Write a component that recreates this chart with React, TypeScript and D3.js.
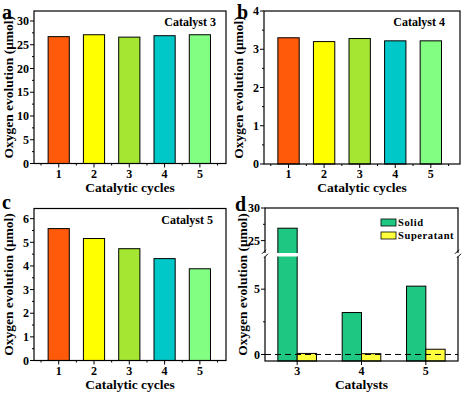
import * as d3 from 'd3';

const cycles = [1, 2, 3, 4, 5];
const cycleColors = ['#ff5a0a', '#ffff00', '#a5e632', '#00c8c8', '#82ff82'];
const catalyst3Values = [26.7, 27.1, 26.6, 26.9, 27.1];
const catalyst4Values = [3.3, 3.2, 3.28, 3.22, 3.22];
const catalyst5Values = [5.58, 5.16, 4.73, 4.31, 3.88];

const catalysts = ['3', '4', '5'];
const solidValues = [26.9, 3.21, 5.23];
const supernatantValues = [0.08, 0.06, 0.4];
const seriesNames = ['Solid', 'Superatant'];
const seriesColors = ['#1ec882', '#ffff3c'];

const FONT = '"Liberation Serif", "Times New Roman", "DejaVu Serif", serif';

type Box = { x0: number; x1: number; y0: number; y1: number };

function CyclePanel(props: {
  letter: string;
  title: string;
  values: number[];
  yDomain: [number, number];
  yTicks: number[];
  yMinor: number[];
  box: Box;
  xDomain: [number, number];
  letterPos: [number, number];
  titleX: number;
}) {
  const { letter, title, values, yDomain, yTicks, yMinor, box, xDomain, letterPos, titleX } = props;
  const x = d3.scaleLinear().domain(xDomain).range([box.x0, box.x1]);
  const y = d3.scaleLinear().domain(yDomain).range([box.y1, box.y0]);
  const step = x(2) - x(1);
  const bw = step * 0.6;
  const xMinor = d3.range(0.5, 6, 1);
  return (
    <g style={{ fontFamily: FONT, fontWeight: 'bold' }}>
      {cycles.map((c, i) => (
        <rect
          key={c}
          x={x(c) - bw / 2}
          y={y(values[i])}
          width={bw}
          height={y(0) - y(values[i])}
          fill={cycleColors[i]}
          stroke="#000"
          strokeWidth={1}
        />
      ))}
      <rect x={box.x0} y={box.y0} width={box.x1 - box.x0} height={box.y1 - box.y0} fill="none" stroke="#000" strokeWidth={1.2} />
      {yTicks.map(t => (
        <g key={t}>
          <line x1={box.x0 - 4} x2={box.x0} y1={y(t)} y2={y(t)} stroke="#000" />
          <text x={box.x0 - 5} y={y(t)} dy="0.35em" textAnchor="end" fontSize={12}>{t}</text>
        </g>
      ))}
      {yMinor.map(t => (
        <line key={t} x1={box.x0 - 2} x2={box.x0} y1={y(t)} y2={y(t)} stroke="#000" />
      ))}
      {cycles.map(c => (
        <g key={c}>
          <line x1={x(c)} x2={x(c)} y1={box.y1} y2={box.y1 + 4} stroke="#000" />
          <text x={x(c)} y={box.y1 + 14} textAnchor="middle" fontSize={12}>{c}</text>
        </g>
      ))}
      {xMinor.map(t => (
        <line key={t} x1={x(t)} x2={x(t)} y1={box.y1} y2={box.y1 + 2} stroke="#000" />
      ))}
      <text x={(box.x0 + box.x1) / 2} y={box.y1 + 28} textAnchor="middle" fontSize={13.5}>Catalytic cycles</text>
      <text
        transform={`translate(${box.x0 - 21},${(box.y0 + box.y1) / 2}) rotate(-90)`}
        textAnchor="middle"
        fontSize={13.5}
      >
        Oxygen evolution (μmol)
      </text>
      <text x={titleX} y={box.y0 + 15} textAnchor="end" fontSize={12}>{title}</text>
      <text x={letterPos[0]} y={letterPos[1]} fontSize={20}>{letter}</text>
    </g>
  );
}

function BrokenPanel() {
  const box: Box = { x0: 265, x1: 458, y0: 208, y1: 361 };
  const breakTop = 253;
  const breakBottom = 256.5;
  const x = d3.scalePoint<string>().domain(catalysts).range([box.x0, box.x1]).padding(0.5);
  const yUp = d3.scaleLinear().domain([23.1, 30]).range([breakTop, box.y0]);
  const yLow = d3.scaleLinear().domain([-0.5, 7.5]).range([box.y1, breakBottom]);
  const step = x.step();
  const bw = step * 0.3;
  const yOf = (v: number) => (v > 7.5 ? yUp(v) : yLow(v));
  const bars = catalysts.flatMap((c, i) => [
    { c, s: 0, v: solidValues[i] },
    { c, s: 1, v: supernatantValues[i] },
  ]);
  const upTicks = [25, 30];
  const lowTicks = [0, 5];
  const midY = (breakTop + breakBottom) / 2;
  return (
    <g style={{ fontFamily: FONT, fontWeight: 'bold' }}>
      {bars.map(b => (
        <rect
          key={b.c + b.s}
          x={(x(b.c) as number) - bw + b.s * bw}
          y={yOf(b.v)}
          width={bw}
          height={box.y1 - yOf(b.v)}
          fill={seriesColors[b.s]}
          stroke="#000"
          strokeWidth={1}
        />
      ))}
      <line x1={box.x0} x2={box.x1} y1={yLow(0)} y2={yLow(0)} stroke="#000" strokeDasharray="6,4" strokeWidth={1} />
      <rect x={box.x0} y={box.y0} width={box.x1 - box.x0} height={box.y1 - box.y0} fill="none" stroke="#000" strokeWidth={1.2} />
      <rect x={box.x0 - 3} y={breakTop} width={box.x1 - box.x0 + 6} height={breakBottom - breakTop} fill="#fff" />
      {[box.x0, box.x1].map(bx => (
        <g key={bx} stroke="#000" strokeWidth={1}>
          <line x1={bx - 3} x2={bx + 1} y1={midY - 1} y2={midY - 5} />
          <line x1={bx - 1} x2={bx + 3} y1={midY + 3} y2={midY - 1} />
        </g>
      ))}
      {upTicks.map(t => (
        <g key={t}>
          <line x1={box.x0 - 4} x2={box.x0} y1={yUp(t)} y2={yUp(t)} stroke="#000" />
          <text x={box.x0 - 5} y={yUp(t)} dy="0.35em" textAnchor="end" fontSize={12}>{t}</text>
        </g>
      ))}
      {lowTicks.map(t => (
        <g key={t}>
          <line x1={box.x0 - 4} x2={box.x0} y1={yLow(t)} y2={yLow(t)} stroke="#000" />
          <text x={box.x0 - 5} y={yLow(t)} dy="0.35em" textAnchor="end" fontSize={12}>{t}</text>
        </g>
      ))}
      {[27.5].map(t => (
        <line key={t} x1={box.x0 - 2} x2={box.x0} y1={yUp(t)} y2={yUp(t)} stroke="#000" />
      ))}
      {[2.5].map(t => (
        <line key={t} x1={box.x0 - 2} x2={box.x0} y1={yLow(t)} y2={yLow(t)} stroke="#000" />
      ))}
      {catalysts.map(c => (
        <g key={c}>
          <line x1={x(c)} x2={x(c)} y1={box.y1} y2={box.y1 + 4} stroke="#000" />
          <text x={x(c)} y={box.y1 + 14} textAnchor="middle" fontSize={12}>{c}</text>
        </g>
      ))}
      <text x={(box.x0 + box.x1) / 2} y={box.y1 + 28} textAnchor="middle" fontSize={13.5}>Catalysts</text>
      <text
        transform={`translate(${box.x0 - 18},${(box.y0 + box.y1) / 2}) rotate(-90)`}
        textAnchor="middle"
        fontSize={13.5}
      >
        Oxygen evolution (μmol)
      </text>
      {seriesNames.map((n, i) => (
        <g key={n}>
          <rect x={381} y={219 + i * 13} width={15} height={7} fill={seriesColors[i]} stroke="#000" strokeWidth={0.8} />
          <text x={398} y={226 + i * 13} fontSize={10.5} letterSpacing={0.6}>{n}</text>
        </g>
      ))}
      <text x={235} y={211} fontSize={20}>d</text>
    </g>
  );
}

export default function App() {
  return (
    <svg width={464} height={395} style={{ position: 'absolute', left: 0, top: 0, background: '#fff' }}>
      <rect width={464} height={395} fill="#fff" />
      <CyclePanel
        letter="a"
        title="Catalyst 3"
        values={catalyst3Values}
        yDomain={[0, 32.1]}
        yTicks={[0, 5, 10, 15, 20, 25, 30]}
        yMinor={[2.5, 7.5, 12.5, 17.5, 22.5, 27.5]}
        box={{ x0: 34, x1: 226, y0: 11, y1: 163.5 }}
        xDomain={[0.3, 5.74]}
        letterPos={[2, 18.5]}
        titleX={216}
      />
      <CyclePanel
        letter="b"
        title="Catalyst 4"
        values={catalyst4Values}
        yDomain={[0, 4]}
        yTicks={[0, 1, 2, 3, 4]}
        yMinor={[0.5, 1.5, 2.5, 3.5]}
        box={{ x0: 264, x1: 460, y0: 11, y1: 164 }}
        xDomain={[0.31, 5.82]}
        letterPos={[237, 18.5]}
        titleX={445}
      />
      <CyclePanel
        letter="c"
        title="Catalyst 5"
        values={catalyst5Values}
        yDomain={[0, 6.43]}
        yTicks={[0, 1, 2, 3, 4, 5, 6]}
        yMinor={[0.5, 1.5, 2.5, 3.5, 4.5, 5.5]}
        box={{ x0: 34, x1: 226, y0: 208.5, y1: 360.5 }}
        xDomain={[0.3, 5.74]}
        letterPos={[2, 209]}
        titleX={213}
      />
      <BrokenPanel />
    </svg>
  );
}
